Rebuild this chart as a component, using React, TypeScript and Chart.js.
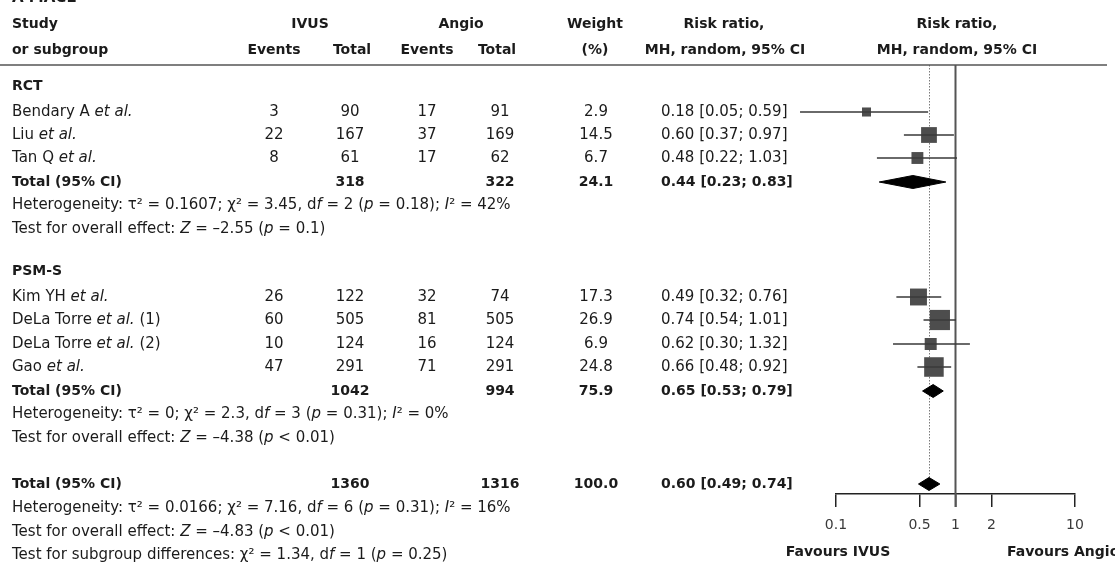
import React, { useEffect, useRef } from "react";
import { Chart, registerables } from "chart.js";

Chart.register(...registerables);

// ---------------- DATA ----------------
const studyNames = ["Bendary A _et al._", "Liu _et al._", "Tan Q _et al._", "Kim YH _et al._", "DeLa Torre _et al._ (1)", "DeLa Torre _et al._ (2)", "Gao _et al._"];
const ivusEvents = [3, 22, 8, 26, 60, 10, 47];
const ivusTotal = [90, 167, 61, 122, 505, 124, 291];
const angioEvents = [17, 37, 17, 32, 81, 16, 71];
const angioTotal = [91, 169, 62, 74, 505, 124, 291];
const weights = [2.9, 14.5, 6.7, 17.3, 26.9, 6.9, 24.8];
const riskRatio = [0.18, 0.6, 0.48, 0.49, 0.74, 0.62, 0.66];
const ciLow = [0.05, 0.37, 0.22, 0.32, 0.54, 0.3, 0.48];
const ciHigh = [0.59, 0.97, 1.03, 0.76, 1.01, 1.32, 0.92];

const subgroupNames = ["RCT", "PSM-S"];
const subIvusTotal = [318, 1042];
const subAngioTotal = [322, 994];
const subWeight = [24.1, 75.9];
const subRR = [0.44, 0.65];
const subLow = [0.23, 0.53];
const subHigh = [0.83, 0.79];
const subHeterogeneity = [
  "Heterogeneity: τ² = 0.1607; χ² = 3.45, d_f_ = 2 (_p_ = 0.18); _I_² = 42%",
  "Heterogeneity: τ² = 0; χ² = 2.3, d_f_ = 3 (_p_ = 0.31); _I_² = 0%",
];
const subOverallTest = [
  "Test for overall effect: _Z_ = –2.55 (_p_ = 0.1)",
  "Test for overall effect: _Z_ = –4.38 (_p_ < 0.01)",
];

const overallIvusTotal = 1360;
const overallAngioTotal = 1316;
const overallWeight = 100.0;
const overallRR = 0.6;
const overallLow = 0.49;
const overallHigh = 0.74;
const overallHeterogeneity = "Heterogeneity: τ² = 0.0166; χ² = 7.16, d_f_ = 6 (_p_ = 0.31); _I_² = 16%";
const overallTest = "Test for overall effect: _Z_ = –4.83 (_p_ < 0.01)";
const subgroupDiffTest = "Test for subgroup differences: χ² = 1.34, d_f_ = 1 (_p_ = 0.25)";

const xTickValues = [0.1, 0.5, 1, 2, 10];
const xTickLabels = ["0.1", "0.5", "1", "2", "10"];
const favoursLeft = "Favours IVUS";
const favoursRight = "Favours Angio";
const panelTitle = "A MACE";

// ---------------- LAYOUT ----------------
const W = 1115;
const H = 577;
const FONT = "'DejaVu Sans', 'Noto Sans', sans-serif";
const FS = 15; // regular
const FSB = 14; // bold
const TEXT = "#1b1b1b";
const RULE_Y = 65;
const AXIS_Y = 494;
const PLOT_LEFT = 836;
const PLOT_RIGHT = 1075;
const studyRowY = [112, 135, 158, 297, 320, 344, 367];
const subLabelY = [86, 271];
const subTotalY = [182, 391];
const subHetY = [205, 414];
const subTestY = [229, 438];
const overallY = 484;
const overallHetY = 508;
const overallTestY = 532;
const subDiffY = 555;
const DIAMOND_HALF = 6.5;

const COL = {
  study: 12,
  ivusEv: 274,
  ivusTot: 350,
  angEv: 427,
  angTot: 500,
  weight: 596,
  rrText: 661,
};

function fontStr(bold: boolean, italic: boolean, size: number) {
  return `${italic ? "italic " : ""}${bold ? "bold " : ""}${size}px ${FONT}`;
}

function drawRich(ctx: CanvasRenderingContext2D, text: string, x: number, y: number, opts: { bold?: boolean; align?: "left" | "center"; size?: number } = {}) {
  const bold = !!opts.bold;
  const size = opts.size ?? (bold ? FSB : FS);
  const parts = text.split("_");
  const segs = parts.map((t, i) => ({ t, italic: i % 2 === 1 })).filter((s) => s.t.length > 0);
  let total = 0;
  for (const s of segs) {
    ctx.font = fontStr(bold, s.italic, size);
    total += ctx.measureText(s.t).width;
  }
  let cx = opts.align === "center" ? x - total / 2 : x;
  ctx.textBaseline = "middle";
  ctx.textAlign = "left";
  ctx.fillStyle = TEXT;
  for (const s of segs) {
    ctx.font = fontStr(bold, s.italic, size);
    ctx.fillText(s.t, cx, y);
    cx += ctx.measureText(s.t).width;
  }
}

const fmtRR = (r: number, lo: number, hi: number) => `${r.toFixed(2)} [${lo.toFixed(2)}; ${hi.toFixed(2)}]`;

const tablePlugin = {
  id: "forestTable",
  beforeDatasetsDraw(chart: any) {
    const ctx = chart.ctx as CanvasRenderingContext2D;
    const xs = chart.scales.x;
    ctx.save();
    // dotted line at overall estimate
    const xo = xs.getPixelForValue(overallRR);
    ctx.strokeStyle = "#7a7a7a";
    ctx.lineWidth = 1;
    ctx.setLineDash([1.5, 1.5]);
    ctx.beginPath();
    ctx.moveTo(Math.round(xo) + 0.5, RULE_Y);
    ctx.lineTo(Math.round(xo) + 0.5, overallY - DIAMOND_HALF);
    ctx.stroke();
    ctx.setLineDash([]);
    // solid line of no effect
    const x1 = xs.getPixelForValue(1);
    ctx.strokeStyle = "#555";
    ctx.lineWidth = 2;
    ctx.beginPath();
    ctx.moveTo(x1, RULE_Y);
    ctx.lineTo(x1, AXIS_Y + 13);
    ctx.stroke();
    ctx.restore();
  },
  afterDraw(chart: any) {
    const ctx = chart.ctx as CanvasRenderingContext2D;
    ctx.save();
    // title (cropped at top in the original)
    drawRich(ctx, panelTitle, COL.study, -2, { bold: true, size: 15 });
    // headers
    const h1 = 24;
    const h2 = 50;
    drawRich(ctx, "Study", COL.study, h1, { bold: true });
    drawRich(ctx, "or subgroup", COL.study, h2, { bold: true });
    drawRich(ctx, "IVUS", 310, h1, { bold: true, align: "center" });
    drawRich(ctx, "Angio", 461, h1, { bold: true, align: "center" });
    drawRich(ctx, "Events", COL.ivusEv, h2, { bold: true, align: "center" });
    drawRich(ctx, "Total", 352, h2, { bold: true, align: "center" });
    drawRich(ctx, "Events", COL.angEv, h2, { bold: true, align: "center" });
    drawRich(ctx, "Total", 497, h2, { bold: true, align: "center" });
    drawRich(ctx, "Weight", 595, h1, { bold: true, align: "center" });
    drawRich(ctx, "(%)", 595, h2, { bold: true, align: "center" });
    drawRich(ctx, "Risk ratio,", 724, h1, { bold: true, align: "center" });
    drawRich(ctx, "MH, random, 95% CI", 725, h2, { bold: true, align: "center" });
    drawRich(ctx, "Risk ratio,", 957, h1, { bold: true, align: "center" });
    drawRich(ctx, "MH, random, 95% CI", 957, h2, { bold: true, align: "center" });
    // rule
    ctx.strokeStyle = "#555";
    ctx.lineWidth = 1.5;
    ctx.beginPath();
    ctx.moveTo(0, RULE_Y);
    ctx.lineTo(1107, RULE_Y);
    ctx.stroke();

    // studies
    studyNames.forEach((name, i) => {
      const y = studyRowY[i];
      drawRich(ctx, name, COL.study, y);
      drawRich(ctx, String(ivusEvents[i]), COL.ivusEv, y, { align: "center" });
      drawRich(ctx, String(ivusTotal[i]), COL.ivusTot, y, { align: "center" });
      drawRich(ctx, String(angioEvents[i]), COL.angEv, y, { align: "center" });
      drawRich(ctx, String(angioTotal[i]), COL.angTot, y, { align: "center" });
      drawRich(ctx, weights[i].toFixed(1), COL.weight, y, { align: "center" });
      drawRich(ctx, fmtRR(riskRatio[i], ciLow[i], ciHigh[i]), COL.rrText, y);
    });
    // subgroups
    subgroupNames.forEach((name, g) => {
      drawRich(ctx, name, COL.study, subLabelY[g], { bold: true });
      const y = subTotalY[g];
      drawRich(ctx, "Total (95% CI)", COL.study, y, { bold: true });
      drawRich(ctx, String(subIvusTotal[g]), COL.ivusTot, y, { bold: true, align: "center" });
      drawRich(ctx, String(subAngioTotal[g]), COL.angTot, y, { bold: true, align: "center" });
      drawRich(ctx, subWeight[g].toFixed(1), COL.weight, y, { bold: true, align: "center" });
      drawRich(ctx, fmtRR(subRR[g], subLow[g], subHigh[g]), COL.rrText, y, { bold: true });
      drawRich(ctx, subHeterogeneity[g], COL.study, subHetY[g]);
      drawRich(ctx, subOverallTest[g], COL.study, subTestY[g]);
    });
    // overall
    drawRich(ctx, "Total (95% CI)", COL.study, overallY, { bold: true });
    drawRich(ctx, String(overallIvusTotal), COL.ivusTot, overallY, { bold: true, align: "center" });
    drawRich(ctx, String(overallAngioTotal), COL.angTot, overallY, { bold: true, align: "center" });
    drawRich(ctx, overallWeight.toFixed(1), COL.weight, overallY, { bold: true, align: "center" });
    drawRich(ctx, fmtRR(overallRR, overallLow, overallHigh), COL.rrText, overallY, { bold: true });
    drawRich(ctx, overallHeterogeneity, COL.study, overallHetY);
    drawRich(ctx, overallTest, COL.study, overallTestY);
    drawRich(ctx, subgroupDiffTest, COL.study, subDiffY);
    // favours
    drawRich(ctx, favoursLeft, 838, 552, { bold: true, align: "center" });
    drawRich(ctx, favoursRight, 1007, 552, { bold: true });
    ctx.restore();
  },
};

export default function App() {
  const ref = useRef<HTMLCanvasElement | null>(null);
  useEffect(() => {
    if (!ref.current) return;

    // CI whiskers as one line dataset with gaps
    const ciData: any[] = [];
    riskRatio.forEach((_, i) => {
      ciData.push({ x: ciLow[i], y: studyRowY[i] });
      ciData.push({ x: ciHigh[i], y: studyRowY[i] });
      ciData.push({ x: ciHigh[i], y: null });
    });
    const squareData = riskRatio.map((r, i) => ({ x: r, y: studyRowY[i] }));
    const squareRadius = weights.map((w) => (3.6 + 3.2 * Math.sqrt(w)) / Math.SQRT2);

    const diamond = (r: number, lo: number, hi: number, y: number) => [
      { x: lo, y },
      { x: r, y: y - DIAMOND_HALF },
      { x: hi, y },
      { x: r, y: y + DIAMOND_HALF },
      { x: lo, y },
    ];
    const diamonds = [
      ...subRR.map((r, g) => diamond(r, subLow[g], subHigh[g], subTotalY[g])),
      diamond(overallRR, overallLow, overallHigh, overallY),
    ];

    const chart = new Chart(ref.current, {
      type: "line",
      data: {
        datasets: [
          {
            data: ciData,
            borderColor: "#3a3a3a",
            borderWidth: 1.3,
            pointRadius: 0,
            spanGaps: false,
            tension: 0,
            clip: false as any,
          },
          {
            data: squareData,
            showLine: false,
            pointStyle: "rect",
            pointRadius: squareRadius,
            pointBorderWidth: 0,
            pointBackgroundColor: "#4d4d4d",
            pointBorderColor: "#4d4d4d",
            clip: false as any,
          },
          ...diamonds.map((d) => ({
            data: d,
            borderColor: "#000",
            backgroundColor: "#000",
            borderWidth: 1,
            pointRadius: 0,
            fill: "shape" as any,
            tension: 0,
            clip: false as any,
          })),
        ] as any,
      },
      options: {
        animation: false,
        responsive: false,
        devicePixelRatio: 1,
        layout: { padding: { left: PLOT_LEFT, right: W - PLOT_RIGHT, top: RULE_Y, bottom: 0 } },
        plugins: { legend: { display: false }, tooltip: { enabled: false } },
        scales: {
          x: {
            type: "logarithmic",
            min: 0.1,
            max: 10,
            afterBuildTicks: (s: any) => {
              s.ticks = xTickValues.map((v) => ({ value: v }));
            },
            afterFit: (s: any) => {
              s.height = H - AXIS_Y;
            },
            ticks: {
              autoSkip: false,
              maxRotation: 0,
              padding: 10,
              color: "#3a3a3a",
              font: { family: FONT, size: 14 },
              callback: (v: any) => {
                const k = xTickValues.indexOf(Number(v));
                return k >= 0 ? xTickLabels[k] : "";
              },
            },
            grid: { drawOnChartArea: false, drawTicks: true, tickLength: 13, color: "#222", lineWidth: 1.5 },
            border: { display: true, color: "#222", width: 1.5 },
          },
          y: { type: "linear", display: false, min: RULE_Y, max: AXIS_Y, reverse: true },
        },
      } as any,
      plugins: [tablePlugin],
    });
    return () => chart.destroy();
  }, []);

  return (
    <div style={{ position: "absolute", left: 0, top: 0, width: W, height: H, background: "#fff" }}>
      <canvas ref={ref} width={W} height={H} style={{ display: "block", width: W, height: H }} />
    </div>
  );
}
